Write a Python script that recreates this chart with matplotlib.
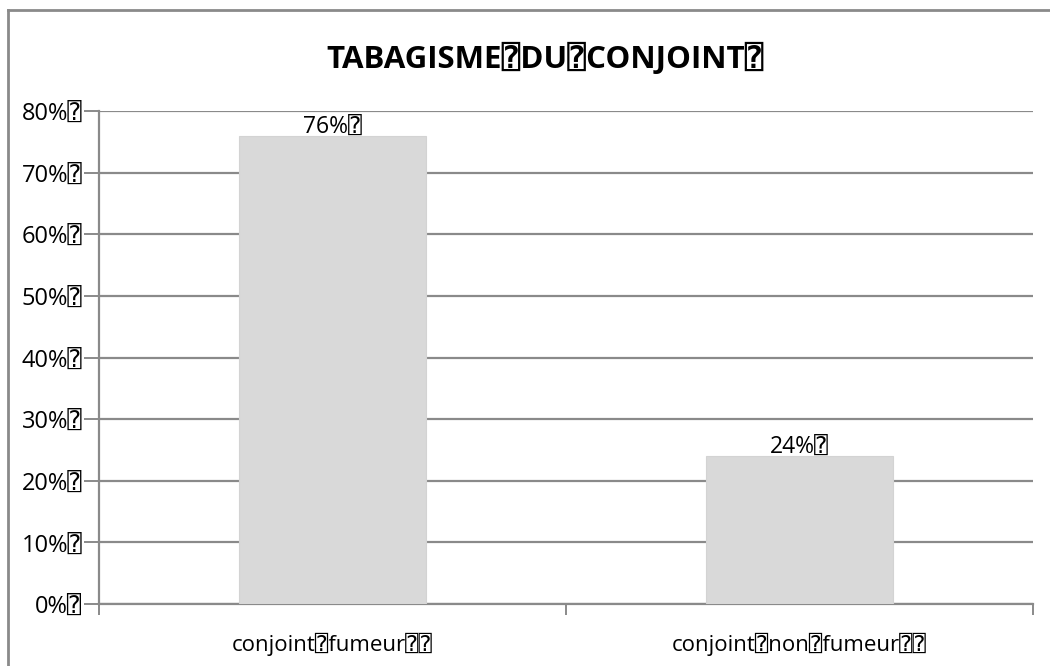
import matplotlib.pyplot as plt
from matplotlib.lines import Line2D

# glyph shown in place of the unsupported characters in the source chart
BOX = "\u2370"

categories = ["conjoint" + BOX + "fumeur" + BOX + BOX,
              "conjoint" + BOX + "non" + BOX + "fumeur" + BOX + BOX]
values = [0.76, 0.24]
value_labels = ["76%" + BOX, "24%" + BOX]
y_ticks = [0.0, 0.1, 0.2, 0.3, 0.4, 0.5, 0.6, 0.7, 0.8]
y_tick_labels = [f"{int(round(t * 100))}%" + BOX for t in y_ticks]
title = "TABAGISME" + BOX + "DU" + BOX + "CONJOINT" + BOX

plt.rcParams['font.family'] = ['Open Sans', 'DejaVu Sans', 'DejaVu Sans Mono']

grid_col = "#8a8a8a"
bar_col = "#d9d9d9"

fig = plt.figure(figsize=(10.5, 6.66), dpi=100)
ax = fig.add_axes([0.0943, 0.0931, 0.8895, 0.7402])

x = list(range(len(categories)))
ax.bar(x, values, width=0.40, color=bar_col, edgecolor="#d3d3d3", linewidth=0.8, zorder=3)

for xi, v, lab in zip(x, values, value_labels):
    ax.annotate(lab, (xi, v), xytext=(0, -3), textcoords="offset points",
                ha="center", va="bottom", fontsize=16.5, color="black", zorder=4)

ax.set_xlim(-0.5, len(categories) - 0.5)
ax.set_ylim(0, 0.8)
ax.set_yticks(y_ticks)
ax.set_yticklabels(y_tick_labels, fontsize=17)
ax.set_xticks(x)
ax.set_xticklabels(categories, fontsize=16)
ax.set_xticks([-0.5, 0.5, 1.5], minor=True)

ax.yaxis.grid(True, color=grid_col, linewidth=1.6, zorder=0)
ax.set_axisbelow(True)
ax.tick_params(axis="y", length=11, width=1.4, color=grid_col, pad=1)
ax.tick_params(axis="x", which="major", length=0, pad=21)
ax.tick_params(axis="x", which="minor", length=8, width=1.4, color=grid_col)

for side in ["top", "right"]:
    ax.spines[side].set_visible(False)
for side in ["left", "bottom"]:
    ax.spines[side].set_color(grid_col)
    ax.spines[side].set_linewidth(1.6)

fig.text(0.519, 0.911, title, ha="center", va="center", fontsize=22.5, fontweight="bold")

# outer chart frame (cut off on the right and bottom)
fig.add_artist(Line2D([0.0076, 0.0076], [0.0, 0.985], transform=fig.transFigure,
                      color=grid_col, linewidth=2))
fig.add_artist(Line2D([0.0076, 1.0], [0.985, 0.985], transform=fig.transFigure,
                      color=grid_col, linewidth=2))

fig.savefig("out.png", dpi=100)
